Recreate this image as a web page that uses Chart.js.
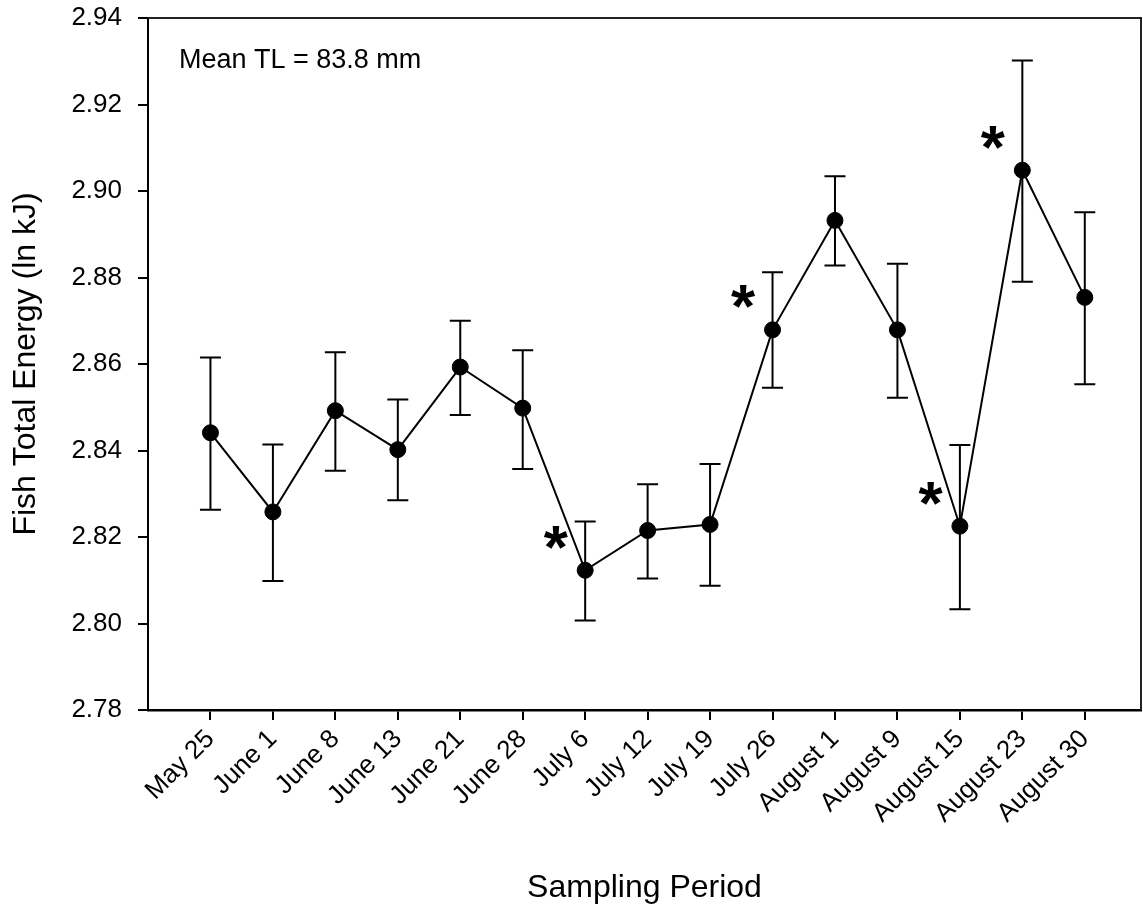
<!DOCTYPE html>
<html>
<head>
<meta charset="utf-8">
<script src="https://cdn.jsdelivr.net/npm/chart.js@4.4.0/dist/chart.umd.min.js"></script>
<style>
  body { margin: 0; background: #fff; }
  #wrap { width: 1143px; height: 907px; }
</style>
</head>
<body>
<div id="wrap"><canvas id="fishChart" width="1143" height="907"></canvas></div>
<script>
// sampling dates and fish energy (ln kJ)
const dates = ["May 25", "June 1", "June 8", "June 13", "June 21", "June 28", "July 6",
  "July 12", "July 19", "July 26", "August 1", "August 9", "August 15", "August 23", "August 30"];
const means = [2.8441, 2.8258, 2.8492, 2.8402, 2.8593, 2.8498, 2.8123,
  2.8215, 2.8229, 2.8679, 2.8932, 2.8679, 2.8225, 2.9048, 2.8754];
const upper = [2.8615, 2.8414, 2.8627, 2.8518, 2.8700, 2.8632, 2.8236,
  2.8322, 2.8369, 2.8812, 2.9034, 2.8832, 2.8413, 2.9302, 2.8951];
const lower = [2.8263, 2.8098, 2.8353, 2.8285, 2.8482, 2.8357, 2.8007,
  2.8104, 2.8087, 2.8545, 2.8828, 2.8522, 2.8033, 2.8790, 2.8553];
const starred = [6, 9, 12, 13];
const yTicks = [2.78, 2.80, 2.82, 2.84, 2.86, 2.88, 2.90, 2.92, 2.94];
const note = "Mean TL = 83.8 mm";

const FONT = "'Liberation Sans', Arial, Helvetica, sans-serif";
Chart.defaults.font.family = FONT;
Chart.defaults.color = "#000";

const points = means.map((m, i) => ({ x: i, y: m }));

// rotated labels reserve a right margin, stretch the plot back to the edge
const stretchRight = {
  id: "stretchRight",
  afterLayout(chart) {
    const xs = chart.scales.x;
    const r = chart.width - 2;
    chart.chartArea.right = r;
    chart.chartArea.width = r - chart.chartArea.left;
    xs.right = r;
    xs.width = r - xs.left;
    xs.configure();
  }
};

// error bars, drawn under the line and markers
const errorBars = {
  id: "errorBars",
  beforeDatasetsDraw(chart) {
    const ctx = chart.ctx;
    const xs = chart.scales.x, ys = chart.scales.y;
    ctx.save();
    ctx.strokeStyle = "#000";
    ctx.lineWidth = 2;
    for (let i = 0; i < means.length; i++) {
      const px = xs.getPixelForValue(i);
      const top = ys.getPixelForValue(upper[i]);
      const bot = ys.getPixelForValue(lower[i]);
      ctx.beginPath();
      ctx.moveTo(px, top); ctx.lineTo(px, bot);
      ctx.moveTo(px - 10.5, top); ctx.lineTo(px + 10.5, top);
      ctx.moveTo(px - 10.5, bot); ctx.lineTo(px + 10.5, bot);
      ctx.stroke();
    }
    ctx.restore();
  }
};

// frame, asterisks and the note
const extras = {
  id: "extras",
  afterDraw(chart) {
    const ctx = chart.ctx;
    const a = chart.chartArea;
    const xs = chart.scales.x, ys = chart.scales.y;
    ctx.save();
    ctx.strokeStyle = "#222";
    ctx.lineWidth = 2;
    ctx.beginPath();
    ctx.moveTo(a.left, a.top); ctx.lineTo(a.right, a.top); ctx.lineTo(a.right, a.bottom);
    ctx.stroke();

    ctx.fillStyle = "#000";
    ctx.font = "bold 62px " + FONT;
    ctx.textAlign = "left";
    ctx.textBaseline = "alphabetic";
    const m = ctx.measureText("*");
    const gw = m.actualBoundingBoxRight + m.actualBoundingBoxLeft;
    const gh = m.actualBoundingBoxAscent - m.actualBoundingBoxDescent;
    starred.forEach(i => {
      const cx = xs.getPixelForValue(i) - 29;
      const cy = ys.getPixelForValue(means[i]) - 14;
      ctx.fillText("*", cx - gw / 2 + m.actualBoundingBoxLeft, cy + m.actualBoundingBoxAscent - gh / 2);
    });

    ctx.font = "27px " + FONT;
    ctx.fillText(note, a.left + 31, a.top + 50);
    ctx.restore();
  }
};

new Chart(document.getElementById("fishChart"), {
  type: "line",
  data: {
    datasets: [{
      data: points,
      borderColor: "#000",
      borderWidth: 2,
      pointRadius: 8,
      pointBackgroundColor: "#000",
      pointBorderColor: "#000",
      pointBorderWidth: 1,
      tension: 0
    }]
  },
  options: {
    responsive: false,
    animation: false,
    layout: { padding: { top: 18, right: 2, bottom: 0, left: 0 } },
    plugins: { legend: { display: false }, tooltip: { enabled: false } },
    scales: {
      x: {
        type: "linear",
        min: -1,
        max: 14.9,
        afterBuildTicks: s => { s.ticks = dates.map((d, i) => ({ value: i })); },
        afterFit: s => {
          s.height = 197;
          s.paddingLeft = 0;
          s.paddingRight = 0;
        },
        ticks: {
          autoSkip: false,
          maxRotation: 45,
          minRotation: 45,
          padding: 4,
          font: { size: 26 },
          callback: v => dates[v]
        },
        grid: { drawOnChartArea: false, color: "#000", lineWidth: 2, tickLength: 10 },
        border: { display: true, color: "#000", width: 2.5 },
        title: { display: true, text: "Sampling Period", font: { size: 32 }, padding: { top: 0, bottom: 0 } }
      },
      y: {
        min: 2.78,
        max: 2.94,
        afterBuildTicks: s => { s.ticks = yTicks.map(v => ({ value: v })); },
        afterFit: s => { s.width = 148; s.paddingTop = 0; s.paddingBottom = 0; },
        ticks: {
          padding: 16,
          font: { size: 26 },
          callback: v => v.toFixed(2)
        },
        grid: { drawOnChartArea: false, color: "#000", lineWidth: 2, tickLength: 10 },
        border: { display: true, color: "#000", width: 2 },
        title: { display: true, text: "Fish Total Energy (ln kJ)", font: { size: 32 }, padding: { top: 7, bottom: 0 } }
      }
    }
  },
  plugins: [stretchRight, errorBars, extras]
});
</script>
</body>
</html>
